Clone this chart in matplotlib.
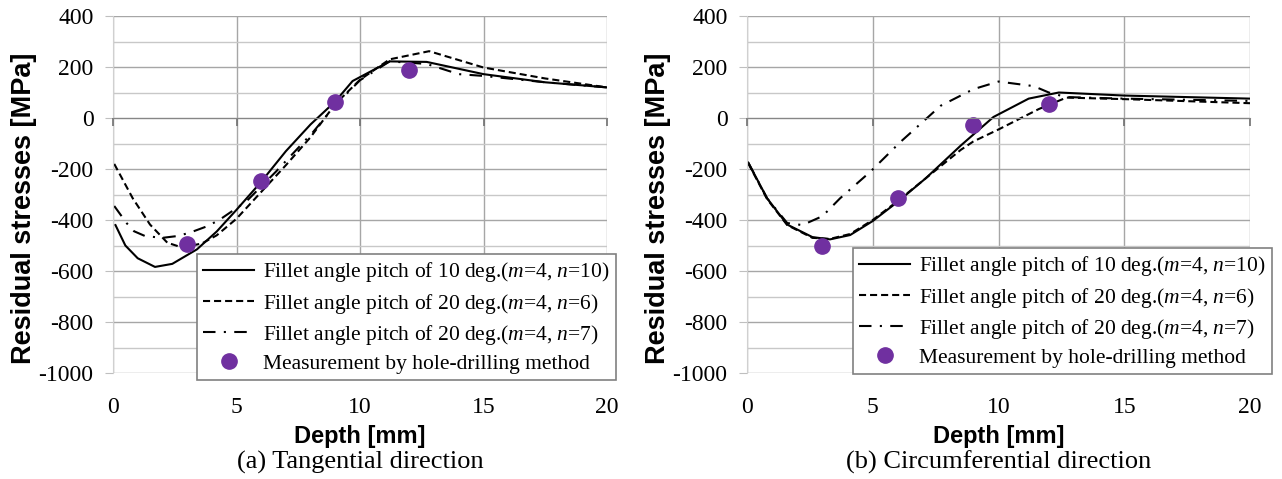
"""Residual stress profiles vs depth: FEM fillet-angle pitch variants and hole-drilling measurements."""

import matplotlib
matplotlib.use("Agg")
import matplotlib.pyplot as plt
from matplotlib.ticker import MultipleLocator

# ---- data ----
# (a) tangential direction
tan_x_p10 = [0.1, 0.5, 1.0, 1.7, 2.4, 3.4, 4.2, 5.0, 6.0, 7.0, 8.0, 9.0, 9.7, 11.2, 12.7, 15.0, 17.5, 20.0]
tan_y_p10 = [-420, -500, -550, -584, -572, -515, -445, -360, -250, -130, -25, 65, 145, 222, 220, 172, 140, 120]

tan_x_p20n6 = [0.05, 0.8, 1.5, 2.2, 2.8, 3.6, 4.2, 5.0, 6.0, 7.0, 8.0, 9.0, 10.0, 11.2, 12.8, 15.0, 17.5, 20.0]
tan_y_p20n6 = [-180, -315, -418, -489, -508, -492, -460, -395, -290, -185, -75, 55, 150, 230, 262, 198, 155, 120]

tan_x_p20n7 = [0.05, 0.55, 0.85, 1.3, 2.0, 2.6, 3.1, 3.8, 4.3, 5.4, 6.6, 8.1, 9.0, 10.0, 11.2, 12.7, 14.0, 15.0, 17.5, 20.0]
tan_y_p20n7 = [-345, -412, -444, -463, -470, -463, -450, -425, -400, -327, -210, -55, 50, 148, 222, 212, 172, 165, 140, 120]

tan_meas_x = [3, 6, 9, 12]
tan_meas_y = [-493, -246, 61, 188]

# (b) circumferential direction
cir_x_p10 = [0.05, 0.8, 1.6, 2.6, 3.3, 4.1, 5.0, 6.0, 7.1, 8.5, 9.8, 11.2, 12.4, 15.0, 20.0]
cir_y_p10 = [-175, -315, -418, -467, -476, -459, -404, -328, -237, -108, 4, 76, 100, 88, 76]

cir_x_p20n6 = [0.05, 0.8, 1.6, 2.6, 3.3, 4.1, 5.0, 6.0, 7.1, 8.5, 9.0, 10.0, 11.6, 12.7, 15.0, 20.0]
cir_y_p20n6 = [-178, -318, -420, -470, -474, -455, -400, -325, -237, -125, -92, -45, 35, 80, 74, 58]

cir_x_p20n7 = [0.05, 0.8, 1.6, 2.2, 3.0, 3.7, 4.9, 6.1, 7.7, 9.0, 10.0, 11.4, 12.0, 12.7, 15.0, 20.0]
cir_y_p20n7 = [-175, -315, -412, -420, -385, -315, -211, -94, 48, 113, 143, 125, 100, 82, 76, 67]

cir_meas_x = [3, 6, 9, 12]
cir_meas_y = [-502, -315, -27, 54]

labels = [
    r"Fillet angle pitch of 10 deg.($m$=4, $n$=10)",
    r"Fillet angle pitch of 20 deg.($m$=4, $n$=6)",
    r"Fillet angle pitch of 20 deg.($m$=4, $n$=7)",
    "Measurement by hole-drilling method",
]

YMIN, YMAX = -1000, 400
XMIN, XMAX = 0, 20

plt.rcParams["font.family"] = "Liberation Serif"
plt.rcParams["axes.unicode_minus"] = False
plt.rcParams["mathtext.fontset"] = "custom"
plt.rcParams["mathtext.rm"] = "Liberation Serif"
plt.rcParams["mathtext.it"] = "Liberation Serif:italic"

W, H = 1282, 479
fig = plt.figure(figsize=(W / 100, H / 100), dpi=100)

PURPLE = "#7030A0"


def draw_panel(left_px, right_px, series, meas, caption, legend_px):
    ax = fig.add_axes([left_px / W, 1 - 373 / H, (right_px - left_px) / W, (373 - 16) / H])
    ax.set_axisbelow(True)

    styles = ["-", (0, (3.4, 1.9)), (0, (6, 4, 1, 4))]
    for (xs, ys), ls, lab in zip(series, styles, labels[:3]):
        ax.plot(xs, ys, color="black", lw=1.5, linestyle=ls, label=lab)
    ax.plot(meas[0], meas[1], "o", color=PURPLE, markersize=11, linestyle="none", label=labels[3])

    ax.set_xlim(XMIN, XMAX)
    ax.set_ylim(YMIN, YMAX)
    ax.xaxis.set_major_locator(MultipleLocator(5))
    ax.yaxis.set_major_locator(MultipleLocator(200))
    ax.yaxis.set_minor_locator(MultipleLocator(100))
    ax.grid(which="major", color="#a6a6a6", lw=1)
    ax.grid(which="minor", axis="y", color="#c8c8c8", lw=1)

    for s in ("top", "right", "bottom"):
        ax.spines[s].set_visible(False)
    ax.spines["left"].set_color("#d0d0d0")
    ax.tick_params(axis="y", which="major", length=6, color="#bfbfbf", pad=8, labelsize=17)
    ax.tick_params(axis="y", which="minor", length=0)
    ax.tick_params(axis="x", length=0, pad=17, labelsize=17)

    # Excel style category axis crossing at zero (ticks only, labels stay at the bottom)
    zero_frac = (0 - YMIN) / (YMAX - YMIN)
    sec = ax.secondary_xaxis(zero_frac)
    sec.set_alignment("bottom")
    sec.xaxis.set_major_locator(MultipleLocator(5))
    sec.tick_params(direction="out", length=6, width=1.2, color="#707070",
                    labelbottom=False, labeltop=False)
    sec.spines["bottom"].set_color("#868686")
    sec.set_zorder(3)

    cx = (left_px + right_px) / 2
    fig.text(cx / W, 1 - 443 / H, "Depth [mm]", ha="center", va="baseline",
             family="Liberation Sans", weight="bold", fontsize=17)
    fig.text(cx / W, 1 - 469 / H, caption, ha="center", va="baseline", fontsize=19)
    fig.text((left_px - 89) / W, 1 - 208 / H, "Residual stresses [MPa]", rotation=90,
             ha="center", va="center", family="Liberation Sans", weight="bold", fontsize=19.5)

    leg = ax.legend(loc="upper left", bbox_to_anchor=(legend_px[0] / W, 1 - legend_px[1] / H),
                    bbox_transform=fig.transFigure, borderaxespad=0, fontsize=15.5,
                    fancybox=False, framealpha=1, edgecolor="#808080", handlelength=2.35,
                    handletextpad=0.4, labelspacing=0.33, borderpad=0.3)
    leg.get_frame().set_linewidth(1.2)
    leg.set_zorder(5)
    return ax


draw_panel(113, 607,
           [(tan_x_p10, tan_y_p10), (tan_x_p20n6, tan_y_p20n6), (tan_x_p20n7, tan_y_p20n7)],
           (tan_meas_x, tan_meas_y), "(a) Tangential direction", (197, 254))
draw_panel(747, 1250,
           [(cir_x_p10, cir_y_p10), (cir_x_p20n6, cir_y_p20n6), (cir_x_p20n7, cir_y_p20n7)],
           (cir_meas_x, cir_meas_y), "(b) Circumferential direction", (853, 248))

fig.savefig("out.png", dpi=100)
